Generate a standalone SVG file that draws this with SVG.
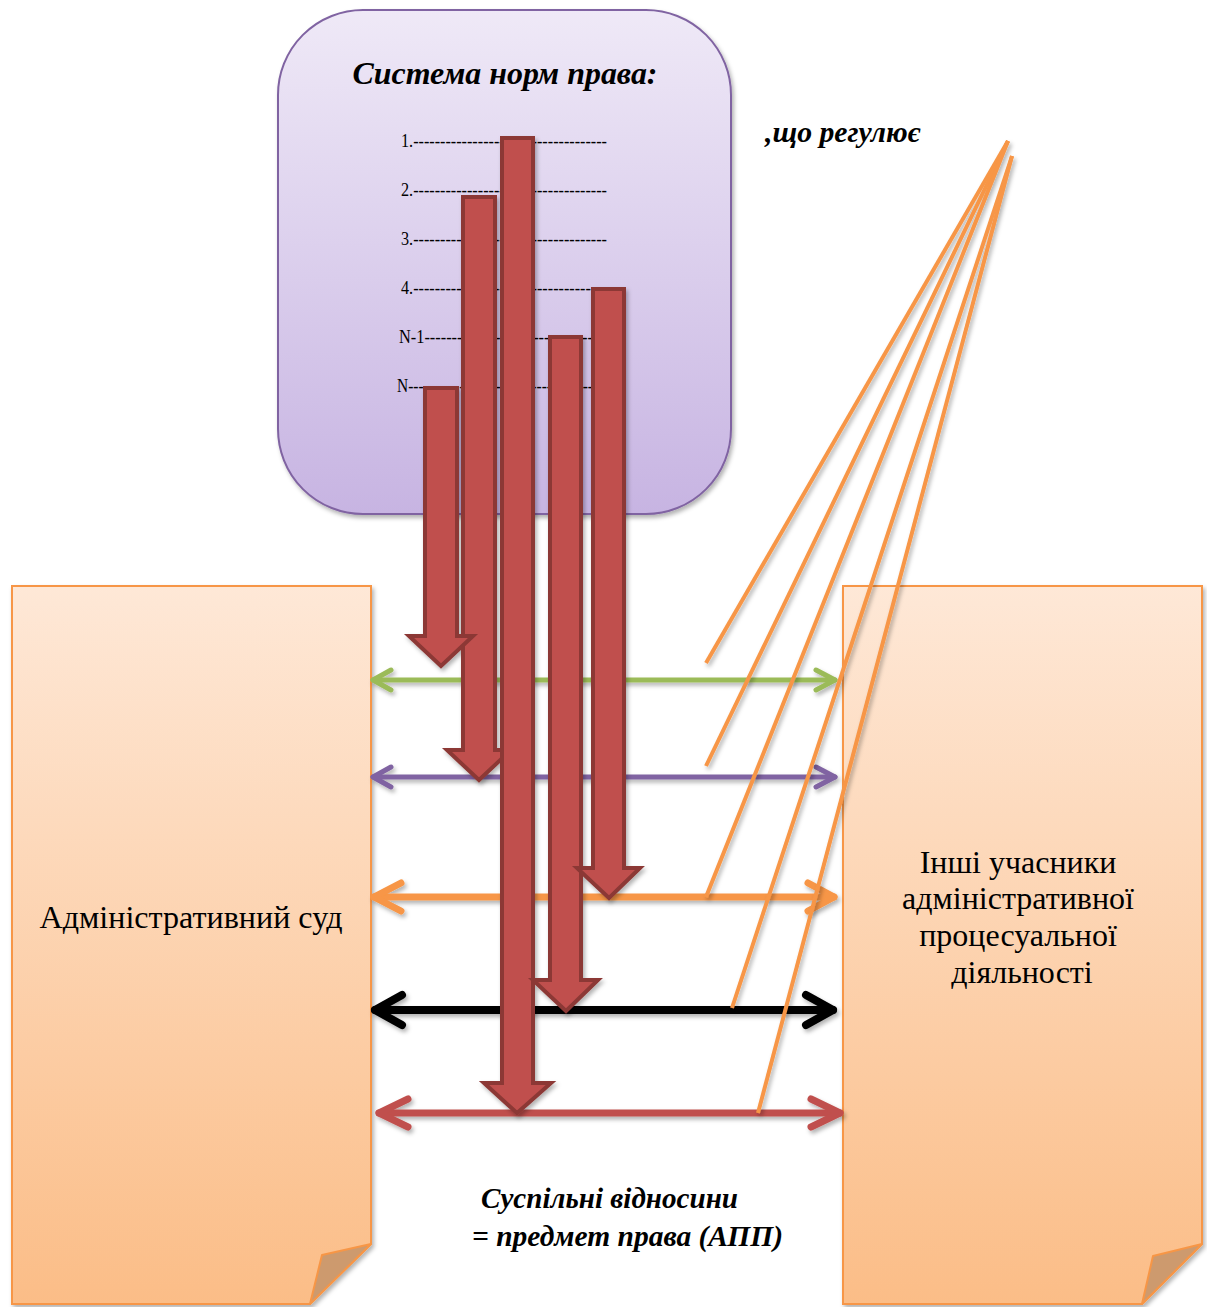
<svg xmlns="http://www.w3.org/2000/svg" width="1207" height="1307" viewBox="0 0 1207 1307">
<style>
.bi{font-weight:bold;font-style:italic}
.panel{stroke:#f79646;stroke-width:2}
.fold{fill:#cd9a6e;stroke:#f79646;stroke-width:2;stroke-linejoin:round}
.bar{fill:#c0504d;stroke:#8c3836;stroke-width:4;stroke-linejoin:miter}
.ha{fill:none;stroke-linecap:round;stroke-linejoin:round}
.diag{stroke:#f79646;stroke-width:4;fill:none}
</style>
<defs>
<linearGradient id="gBox" x1="0" y1="0" x2="0" y2="1">
<stop offset="0" stop-color="#efe9f7"/>
<stop offset="1" stop-color="#c7b4e2"/>
</linearGradient>
<linearGradient id="gPanel" x1="0" y1="0" x2="0" y2="1">
<stop offset="0" stop-color="#fee8d7"/>
<stop offset="1" stop-color="#fbbd87"/>
</linearGradient>
<filter id="sh" x="-10%" y="-10%" width="130%" height="130%">
<feDropShadow dx="2" dy="3" stdDeviation="2" flood-color="#000" flood-opacity="0.3"/>
</filter>
</defs>

<g font-family="'Liberation Serif', 'DejaVu Serif', serif" fill="#000">
<g id="norm-system">
<rect x="278" y="10" width="453" height="504" rx="85" ry="85" fill="url(#gBox)" stroke="#8064a2" stroke-width="2" filter="url(#sh)"/>
<text class="bi" x="505" y="84" font-size="32" text-anchor="middle" textLength="305" lengthAdjust="spacingAndGlyphs">Система норм права:</text>
<text font-size="18" x="401" y="147" textLength="206" lengthAdjust="spacingAndGlyphs">1.------------------------------------</text>
<text font-size="18" x="401" y="196" textLength="206" lengthAdjust="spacingAndGlyphs">2.------------------------------------</text>
<text font-size="18" x="401" y="245" textLength="206" lengthAdjust="spacingAndGlyphs">3.------------------------------------</text>
<text font-size="18" x="401" y="294" textLength="206" lengthAdjust="spacingAndGlyphs">4.------------------------------------</text>
<text font-size="18" x="399" y="343" textLength="194" lengthAdjust="spacingAndGlyphs">N-1-------------------------------</text>
<text font-size="18" x="397" y="392" textLength="196" lengthAdjust="spacingAndGlyphs">N------------------------------------</text>
</g>

<g id="regulates-label">
<text class="bi" x="765" y="142" font-size="29" textLength="155" lengthAdjust="spacingAndGlyphs">,що регулює</text>
</g>

<g id="admin-court">
<path class="panel" d="M12,586 H371 V1244 L310,1304 H12 Z" fill="url(#gPanel)" filter="url(#sh)"/>
<path class="fold" d="M371,1244 L322,1255 L310,1304 Z"/>
<text x="191" y="928" font-size="32" text-anchor="middle" textLength="303" lengthAdjust="spacingAndGlyphs">Адміністративний суд</text>
</g>

<g id="other-participants">
<path class="panel" d="M843,586 H1202 V1244 L1142,1304 H843 Z" fill="url(#gPanel)" filter="url(#sh)"/>
<path class="fold" d="M1202,1244 L1153,1256 L1142,1304 Z"/>
<text font-size="32" text-anchor="middle">
<tspan x="1022" y="873">Інші учасники</tspan>
<tspan x="1022" y="909">адміністративної</tspan>
<tspan x="1022" y="946">процесуальної</tspan>
<tspan x="1022" y="983">діяльності</tspan>
</text>
</g>

<g id="relations-label">
<text class="bi" x="481" y="1208" font-size="29" textLength="257" lengthAdjust="spacingAndGlyphs">Суспільні відносини</text>
<text class="bi" x="472" y="1246" font-size="29" textLength="311" lengthAdjust="spacingAndGlyphs">= предмет права (АПП)</text>
</g>
</g>

<g id="connectors">
<g filter="url(#sh)">
<g class="ha" stroke="#9bbb59" stroke-width="5">
<path d="M373,680 H835"/>
<path d="M391,670 L373,680 L391,690"/>
<path d="M816,670 L835,680 L816,690"/>
</g>
<g class="ha" stroke="#8064a2" stroke-width="5">
<path d="M373,777 H835"/>
<path d="M391,767 L373,777 L391,787"/>
<path d="M816,767 L835,777 L816,787"/>
</g>
<g class="ha" stroke="#f79646" stroke-width="7">
<path d="M374,897 H834"/>
<path d="M401,883 L374,897 L401,911"/>
<path d="M808,883 L834,897 L808,911"/>
</g>
<g class="ha" stroke="#000" stroke-width="8">
<path d="M375,1010 H833"/>
<path d="M402,995 L375,1010 L402,1025"/>
<path d="M806,995 L833,1010 L806,1025"/>
</g>
<g class="ha" stroke="#c0504d" stroke-width="7">
<path d="M379,1113 H840"/>
<path d="M408,1099 L379,1113 L408,1127"/>
<path d="M811,1099 L840,1113 L811,1127"/>
</g>
</g>

<g filter="url(#sh)">
<path class="bar" d="M463,197 H495 V750 H511 L479,780 L447,750 H463 Z"/>
<path class="bar" d="M425,388 H457 V636 H473 L441,666 L409,636 H425 Z"/>
<path class="bar" d="M502,138 H533 V1083 H551 L517,1113 L484,1083 H502 Z"/>
<path class="bar" d="M550,337 H581 V980 H598 L566,1011 L533,980 H550 Z"/>
<path class="bar" d="M593,289 H624 V868 H640 L609,898 L577,868 H593 Z"/>
</g>

<g filter="url(#sh)">
<path class="diag" d="M1008,141 L706,663"/>
<path class="diag" d="M1008,141 L706,766"/>
<path class="diag" d="M1008,141 L706,897"/>
<path class="diag" d="M1012,156 L732,1008"/>
<path class="diag" d="M1012,156 L758,1113"/>
</g>
</g>
</svg>
